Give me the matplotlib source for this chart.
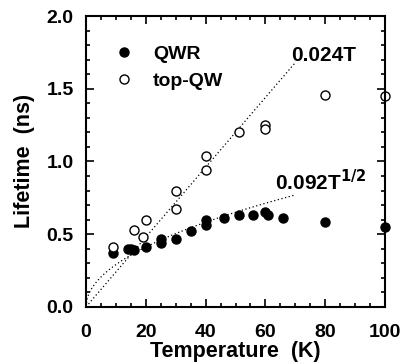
import matplotlib.pyplot as plt
import numpy as np
from matplotlib.ticker import MultipleLocator

plt.rcParams['font.family'] = ['Liberation Sans', 'DejaVu Sans']
plt.rcParams['font.weight'] = 'bold'

# QWR (filled)
qwr_T = [9, 14, 15, 16, 20, 25, 25, 30, 35, 40, 40, 46, 51, 56, 60, 61, 66, 80, 100]
qwr_L = [0.37, 0.40, 0.40, 0.39, 0.41, 0.47, 0.44, 0.47, 0.52, 0.60, 0.56, 0.61, 0.63, 0.635, 0.65, 0.63, 0.61, 0.585, 0.55]

# top-QW (open)
tqw_T = [9, 16, 19, 20, 30, 30, 40, 40, 51, 60, 60, 80, 100]
tqw_L = [0.415, 0.53, 0.48, 0.60, 0.80, 0.67, 1.04, 0.94, 1.20, 1.25, 1.22, 1.46, 1.45]

fit_T = np.linspace(0, 70, 200)

fig = plt.figure(figsize=(4.04, 3.64), dpi=100)
ax = fig.add_axes([0.213, 0.157, 0.74, 0.799])

ax.plot(fit_T, 0.024 * fit_T, color='black', ls=(0, (1, 2)), lw=0.9)
ax.plot(fit_T, 0.092 * np.sqrt(fit_T), color='black', ls=(0, (1, 2)), lw=0.9)

ax.plot(qwr_T, qwr_L, 'o', color='black', ms=6.5, clip_on=False, label='QWR')
ax.plot(tqw_T, tqw_L, 'o', mfc='white', mec='black', mew=1.0, ms=6.5, clip_on=False, label='top-QW')

ax.set_xlim(0, 100)
ax.set_ylim(0, 2.0)
ax.xaxis.set_major_locator(MultipleLocator(20))
ax.xaxis.set_minor_locator(MultipleLocator(5))
ax.yaxis.set_major_locator(MultipleLocator(0.5))
ax.yaxis.set_minor_locator(MultipleLocator(0.1))
ax.yaxis.set_major_formatter(plt.FormatStrFormatter('%.1f'))
ax.tick_params(which='both', direction='in', top=True, right=True, width=1.2)
ax.tick_params(which='major', length=6, labelsize=14)
ax.tick_params(axis='x', which='major', pad=12)
ax.tick_params(axis='y', which='major', pad=9)
ax.tick_params(which='minor', length=3)
for s in ax.spines.values():
    s.set_linewidth(1.5)

ax.set_xlabel('Temperature  (K)', fontsize=15.5, fontweight='bold', labelpad=0)
ax.set_ylabel('Lifetime  (ns)', fontsize=15.5, fontweight='bold', labelpad=8)

ax.legend(loc='upper left', bbox_to_anchor=(0.035, 0.96), frameon=False, fontsize=14,
          handletextpad=1.0, labelspacing=0.5, handlelength=1.0)

ax.text(0.905, 0.865, '0.024T', transform=ax.transAxes, ha='right', va='center', fontsize=15, fontweight='bold')
ax.text(0.935, 0.43, r'0.092T$^{\mathbf{1/2}}$', transform=ax.transAxes, ha='right', va='center', fontsize=15, fontweight='bold')

fig.savefig('out.png', dpi=100)
